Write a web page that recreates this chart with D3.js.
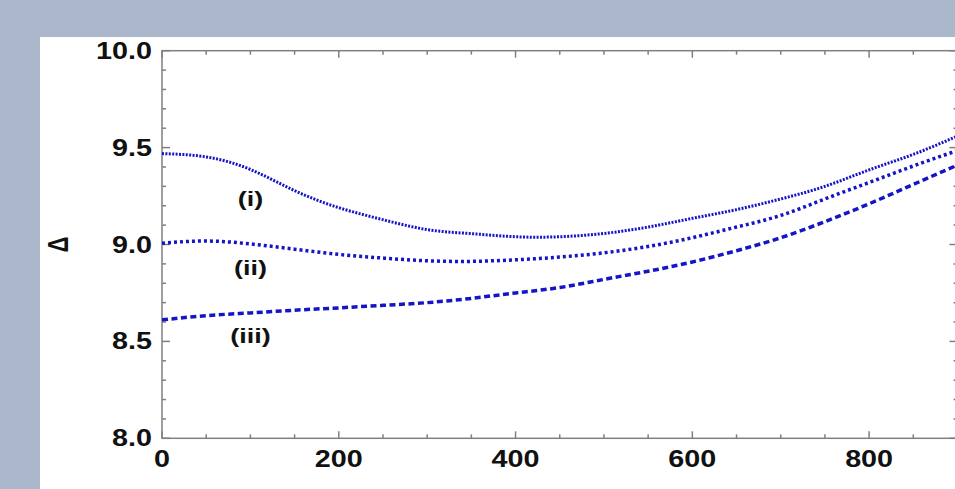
<!DOCTYPE html>
<html>
<head>
<meta charset="utf-8">
<script src="https://cdn.jsdelivr.net/npm/d3@7"></script>
<style>
  body { margin: 0; background: #abb8cc; }
  svg { display: block; }
  text { font-family: "Liberation Sans", Arial, sans-serif; font-weight: bold; fill: #111; }
</style>
</head>
<body>
<div id="chart-area"></div>
<script>
// data
const xs = [0, 50, 100, 150, 200, 250, 300, 350, 400, 450, 500, 550, 600, 650, 700, 750, 800, 850, 900];
const curveI = [9.469, 9.452, 9.387, 9.278, 9.19, 9.128, 9.077, 9.056, 9.04, 9.04, 9.057, 9.09, 9.135, 9.18, 9.235, 9.30, 9.385, 9.465, 9.56];
const curveII = [9.007, 9.018, 9.003, 8.976, 8.949, 8.930, 8.916, 8.913, 8.921, 8.935, 8.957, 8.99, 9.035, 9.09, 9.15, 9.235, 9.32, 9.405, 9.485];
const curveIII = [8.611, 8.633, 8.647, 8.661, 8.673, 8.686, 8.700, 8.722, 8.75, 8.778, 8.82, 8.862, 8.91, 8.968, 9.035, 9.118, 9.21, 9.31, 9.41];
const curveNames = ['(i)', '(ii)', '(iii)'];
const labelX = [100, 100, 100];
const labelY = [9.199, 8.843, 8.492];
const xTicks = [0, 200, 400, 600, 800];
const yTicks = [8.0, 8.5, 9.0, 9.5, 10.0];

const W = 955, H = 489;
const plot = { left: 162, top: 50.7, right: 957.5, bottom: 438.3 };
const sx = 1.25; // the figure text is stretched wide

const svg = d3.select('#chart-area').append('svg')
  .attr('width', W)
  .attr('height', H);

// white panel
svg.append('rect')
  .attr('x', 40).attr('y', 37)
  .attr('width', W - 40).attr('height', H - 37)
  .attr('fill', '#fff');

const x = d3.scaleLinear().domain([0, 900]).range([plot.left, plot.right]);
const y = d3.scaleLinear().domain([8, 10]).range([plot.bottom, plot.top]);

// frame with inward ticks on all sides
const frame = svg.append('g').attr('stroke', '#808080').attr('stroke-width', 1.5);

frame.append('rect')
  .attr('x', plot.left).attr('y', plot.top)
  .attr('width', plot.right - plot.left).attr('height', plot.bottom - plot.top)
  .attr('fill', 'none');

const xMinor = d3.range(0, 901, 50);
const yMinor = d3.range(80, 101, 1).map(d => d / 10);

xMinor.forEach(v => {
  const len = v % 200 === 0 ? 7 : 4;
  frame.append('line').attr('x1', x(v)).attr('x2', x(v)).attr('y1', plot.bottom).attr('y2', plot.bottom - len);
  frame.append('line').attr('x1', x(v)).attr('x2', x(v)).attr('y1', plot.top).attr('y2', plot.top + len);
});
yMinor.forEach(v => {
  const len = Math.round(v * 10) % 5 === 0 ? 8 : 4;
  frame.append('line').attr('x1', plot.left).attr('x2', plot.left + len).attr('y1', y(v)).attr('y2', y(v));
  frame.append('line').attr('x1', plot.right).attr('x2', plot.right - len).attr('y1', y(v)).attr('y2', y(v));
});

// tick labels
svg.append('g').selectAll('text')
  .data(xTicks)
  .join('text')
  .attr('transform', d => `translate(${x(d)},${plot.bottom + 29}) scale(${sx},1)`)
  .attr('text-anchor', 'middle')
  .attr('font-size', '23px')
  .text(d => d);

svg.append('g').selectAll('text')
  .data(yTicks)
  .join('text')
  .attr('transform', d => `translate(${plot.left - 10},${y(d) + 8}) scale(${sx},1)`)
  .attr('text-anchor', 'end')
  .attr('font-size', '23px')
  .text(d => d.toFixed(1));

// y axis title
svg.append('text')
  .attr('transform', `translate(68,${y(9)}) scale(1.3,1) rotate(-90)`)
  .attr('text-anchor', 'middle')
  .attr('font-size', '22px')
  .text('Δ');

// curves
const series = [
  { values: curveI, dash: '2,1.4', width: 3 },
  { values: curveII, dash: '3,3', width: 3.5 },
  { values: curveIII, dash: '6,3.5', width: 3.5 }
];

const line = d3.line()
  .x(d => x(d[0]))
  .y(d => y(d[1]))
  .curve(d3.curveNatural);

svg.append('defs').append('clipPath').attr('id', 'clip')
  .append('rect')
  .attr('x', plot.left).attr('y', plot.top)
  .attr('width', plot.right - plot.left).attr('height', plot.bottom - plot.top);

svg.append('g').attr('clip-path', 'url(#clip)')
  .selectAll('path')
  .data(series)
  .join('path')
  .attr('d', s => line(xs.map((v, i) => [v, s.values[i]])))
  .attr('fill', 'none')
  .attr('stroke', '#1515c8')
  .attr('stroke-width', s => s.width)
  .attr('stroke-dasharray', s => s.dash);

// curve labels
svg.append('g').selectAll('text')
  .data(curveNames)
  .join('text')
  .attr('transform', (d, i) => `translate(${x(labelX[i])},${y(labelY[i])}) scale(1.35,1)`)
  .attr('text-anchor', 'middle')
  .attr('font-size', '20px')
  .text(d => d);
</script>
</body>
</html>
